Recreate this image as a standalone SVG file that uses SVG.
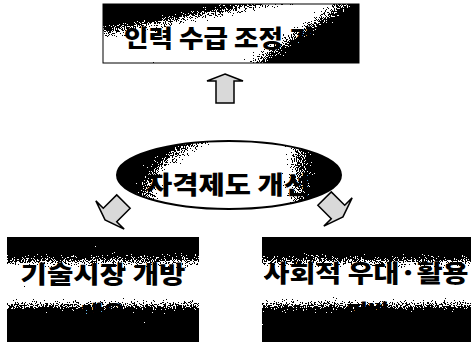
<svg xmlns="http://www.w3.org/2000/svg" width="471" height="342" viewBox="0 0 471 342">
<defs>
<style>
.lbl{font-family:"Noto Sans CJK KR","Noto Sans",sans-serif;font-weight:900;fill:#000;text-anchor:middle}
.arrow{fill:#d9d9d9;stroke:#000;stroke-width:1.5;stroke-linejoin:miter}
.frame{stroke:#000;stroke-width:1}
</style>
<filter id="grain" x="0" y="0" width="1" height="1" color-interpolation-filters="sRGB">
<feTurbulence type="fractalNoise" baseFrequency="0.9" numOctaves="2" seed="3" result="n"/>
<feColorMatrix in="n" type="matrix" values="1 0 0 0 0 1 0 0 0 0 1 0 0 0 0 0 0 0 0 1" result="g"/>
<feComposite in="SourceGraphic" in2="g" operator="arithmetic" k1="0" k2="1" k3="1.4" k4="-0.7" result="m"/>
<feComponentTransfer in="m" result="t">
<feFuncR type="discrete" tableValues="0 1"/>
<feFuncG type="discrete" tableValues="0 1"/>
<feFuncB type="discrete" tableValues="0 1"/>
</feComponentTransfer>
<feComposite in="t" in2="SourceAlpha" operator="in"/>
</filter>
<linearGradient id="gTop" gradientUnits="userSpaceOnUse" x1="55.5" y1="83.2" x2="138.8" y2="208">
<stop offset="0" stop-color="#fff"/><stop offset="0.54" stop-color="#fff"/>
<stop offset="0.71" stop-color="#000"/><stop offset="1" stop-color="#000"/>
</linearGradient>
<linearGradient id="gTopWedge" gradientUnits="userSpaceOnUse" x1="0" y1="0" x2="17.55" y2="98.4">
<stop offset="0" stop-color="#000"/><stop offset="0.4" stop-color="#000"/>
<stop offset="0.6" stop-color="#000" stop-opacity="0"/><stop offset="1" stop-color="#000" stop-opacity="0"/>
</linearGradient>
<linearGradient id="gEll" gradientUnits="userSpaceOnUse" x1="117" y1="0" x2="341" y2="0">
<stop offset="0" stop-color="#000"/><stop offset="0.06" stop-color="#000"/>
<stop offset="0.22" stop-color="#fff"/><stop offset="0.72" stop-color="#fff"/>
<stop offset="0.9" stop-color="#000"/><stop offset="1" stop-color="#000"/>
</linearGradient>
<linearGradient id="gEllWedge" gradientUnits="userSpaceOnUse" x1="101.4" y1="172.4" x2="152.1" y2="258.6">
<stop offset="0" stop-color="#000"/><stop offset="0.08" stop-color="#000"/>
<stop offset="0.36" stop-color="#000" stop-opacity="0"/><stop offset="1" stop-color="#000" stop-opacity="0"/>
</linearGradient>
<linearGradient id="gBot" gradientUnits="userSpaceOnUse" x1="0" y1="237" x2="0" y2="342">
<stop offset="0" stop-color="#000"/><stop offset="0.14" stop-color="#000"/>
<stop offset="0.32" stop-color="#fff"/><stop offset="0.56" stop-color="#fff"/>
<stop offset="0.74" stop-color="#000"/><stop offset="1" stop-color="#000"/>
</linearGradient>
</defs>
<rect width="471" height="342" fill="#fff"/>

<g id="node-top">
<g filter="url(#grain)">
<rect x="103" y="4" width="256" height="59" fill="url(#gTop)"/>
<rect x="103" y="4" width="256" height="59" fill="url(#gTopWedge)"/>
</g>
<rect x="103" y="4" width="256" height="59" fill="none" class="frame"/>
<text class="lbl" x="231" y="47" font-size="24" textLength="214" lengthAdjust="spacingAndGlyphs">인력 수급 조정 기능</text>
</g>

<g id="node-center">
<g filter="url(#grain)">
<ellipse cx="229" cy="175" rx="112" ry="34" fill="url(#gEll)"/>
<ellipse cx="229" cy="175" rx="112" ry="34" fill="url(#gEllWedge)"/>
</g>
<ellipse cx="229" cy="175" rx="112" ry="34" fill="none" stroke="#000" stroke-width="2"/>
<text class="lbl" x="228" y="194" font-size="25" textLength="164" lengthAdjust="spacingAndGlyphs">자격제도 개선</text>
</g>

<g id="node-left">
<rect x="7" y="237" width="192" height="106" fill="url(#gBot)" filter="url(#grain)"/>
<text class="lbl" x="103" y="283" font-size="24" textLength="165" lengthAdjust="spacingAndGlyphs">기술시장 개방</text>
<text class="lbl" x="103" y="323" font-size="24">대응</text>
</g>

<g id="node-right">
<rect x="262" y="237" width="210" height="106" fill="url(#gBot)" filter="url(#grain)"/>
<text class="lbl" x="366" y="282" font-size="24" textLength="205" lengthAdjust="spacingAndGlyphs">사회적 우대·활용</text>
<text class="lbl" x="368" y="322" font-size="24">기반</text>
</g>

<g id="connectors">
<polygon class="arrow" points="225,74 243,81 234,81 234,103 216,103 216,81 207,81"/>
<polygon class="arrow" transform="translate(110,215) rotate(45)" points="-9.5,-19 9.5,-19 9.5,0 20,0 0,7 -20,0 -9.5,0"/>
<polygon class="arrow" transform="translate(338,212) rotate(-45)" points="-9.5,-19 9.5,-19 9.5,0 20,0 0,7 -20,0 -9.5,0"/>
</g>
</svg>
